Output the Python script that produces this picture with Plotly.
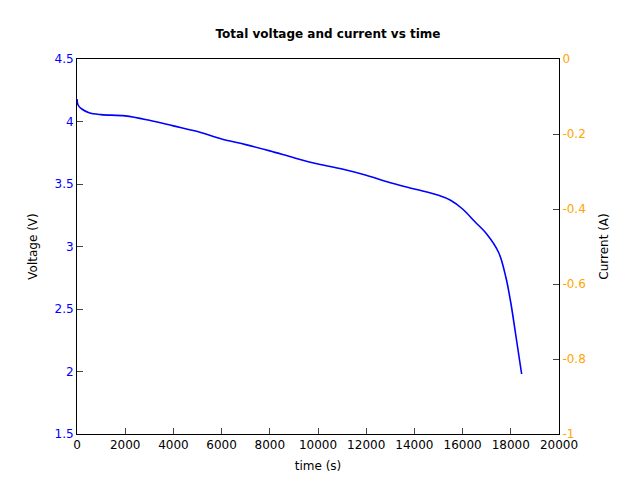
import plotly.graph_objects as go

# voltage discharge curve
time_s = [0, 50, 200, 500, 1000, 2000, 3000, 4000, 5000, 6000, 7000, 8000, 9000,
          10000, 11000, 12000, 13000, 14000, 15000, 15500, 16000, 16500, 17000,
          17500, 17800, 18000, 18200, 18450]
voltage = [4.18, 4.13, 4.10, 4.07, 4.055, 4.045, 4.01, 3.965, 3.92, 3.86, 3.815,
           3.765, 3.71, 3.66, 3.62, 3.57, 3.51, 3.46, 3.41, 3.37, 3.30, 3.20,
           3.10, 2.95, 2.75, 2.55, 2.30, 1.98]

x_ticks = list(range(0, 20001, 2000))
v_ticks = [1.5, 2, 2.5, 3, 3.5, 4, 4.5]
i_ticks = [-1, -0.8, -0.6, -0.4, -0.2, 0]

fig = go.Figure()
fig.add_trace(go.Scatter(x=time_s, y=voltage, mode="lines", line=dict(color="blue", width=1.6), line_shape="spline"))

axis = dict(showgrid=False, zeroline=False, showline=True, linecolor="black", ticks="inside",
            ticklen=6, automargin=False, title_font=dict(size=12))
fig.update_layout(
    width=640, height=480, showlegend=False,
    plot_bgcolor="white", paper_bgcolor="white",
    font=dict(family="DejaVu Sans", size=12, color="black"),
    margin=dict(l=69, r=89, t=51, b=54),
    title=dict(text="<b>Total voltage and current vs time</b>", x=0.5, y=0.955, font=dict(size=12)),
    xaxis=dict(axis, range=[0, 20000], tickvals=x_ticks, ticktext=[str(t) for t in x_ticks],
               title=dict(text="time (s)", standoff=10), mirror=True),
    yaxis=dict(axis, range=[1.5, 4.5], tickvals=v_ticks, ticktext=[str(v) for v in v_ticks],
               tickfont=dict(color="blue"), title=dict(text="Voltage (V)", standoff=14)),
    yaxis2=dict(axis, overlaying="y", side="right", range=[-1, 0], tickvals=i_ticks,
                ticktext=[f"{t:g}" for t in i_ticks], tickfont=dict(color="orange"),
                title=dict(text="Current (A)", standoff=14)),
)
fig.add_trace(go.Scatter(x=[], y=[], yaxis="y2"))
fig.write_html("out.html")
